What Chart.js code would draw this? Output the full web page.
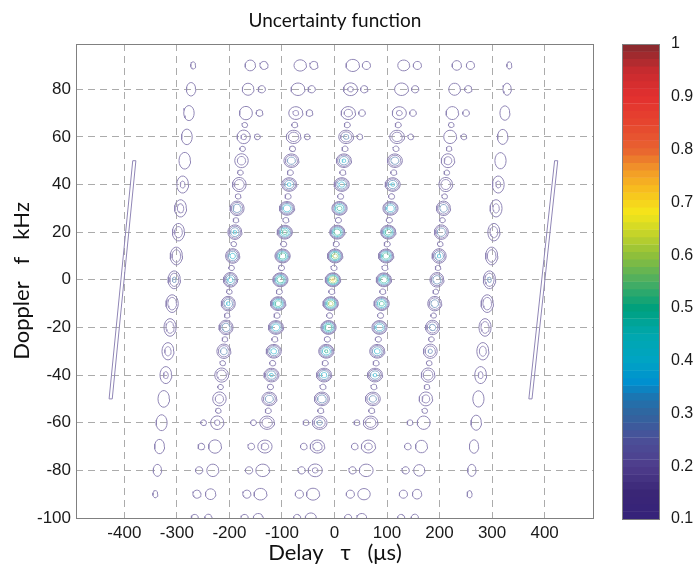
<!DOCTYPE html>
<html>
<head>
<meta charset="utf-8">
<script src="https://cdn.jsdelivr.net/npm/chart.js@4.4.1/dist/chart.umd.min.js"></script>
<style>
html,body{margin:0;padding:0;background:#fff;}
#wrap{position:relative;width:698px;height:568px;overflow:hidden;}
#main{position:absolute;left:0;top:0;}
#cbar{position:absolute;left:600px;top:0;}
</style>
</head>
<body>
<div id="wrap">
<canvas id="main" width="698" height="568"></canvas>
<canvas id="cbar" width="98" height="568"></canvas>
</div>
<script>
// ---------------- data ----------------
const xRange = [-492, 494];                 // delay axis limits (µs)
const yRange = [-100, 99];                  // doppler axis limits (kHz)
const xTickValues = [-400, -300, -200, -100, 0, 100, 200, 300, 400];
const yTickValues = [-100, -80, -60, -40, -20, 0, 20, 40, 60, 80];
const colorbarTicks = [0.1, 0.2, 0.3, 0.4, 0.5, 0.6, 0.7, 0.8, 0.9, 1];
const contourLevels = [0.1, 0.2, 0.3, 0.4, 0.5, 0.6, 0.7, 0.8, 0.9];

// doppler rows of the lobes (kHz)
const dopplerRows = [90, 80, 70, 60, 50, 40, 30, 20, 10, 0, -10, -20, -30, -40, -50, -60, -70, -80, -90, -100];

// lobe columns: delay at f = 0 (µs) and drift of the column (µs per kHz)
const columnTau0  = [-305, -198, -103, -3, 94, 195, 295];
const columnDrift = [0.40, 0.42, 0.42, 0.42, 0.42, 0.42, 0.42];
// size of the outer (0.1) contour of a strong lobe: half width (µs), half height (kHz)
const columnHalfWidth  = [12.5, 14, 15, 15, 15, 14, 12.5];
const columnHalfHeight = [4.0, 3.2, 3.0, 3.0, 3.0, 3.2, 4.0];

// peak level of every lobe, per column, rows as in dopplerRows
const peakColM3 = [0.105, 0.13, 0.15, 0.16, 0.20, 0.22, 0.24, 0.27, 0.30, 0.32, 0.30, 0.28, 0.24, 0.22, 0.20, 0.17, 0.14, 0.12, 0.105, 0];
const peakColM2 = [0.13, 0.15, 0.20, 0.22, 0.26, 0.30, 0.40, 0.42, 0.45, 0.45, 0.42, 0.40, 0.36, 0.30, 0.26, 0.22, 0.20, 0.16, 0.13, 0.11];
const peakColM1 = [0.15, 0.20, 0.22, 0.30, 0.38, 0.42, 0.50, 0.55, 0.60, 0.60, 0.58, 0.50, 0.45, 0.42, 0.38, 0.30, 0.24, 0.20, 0.16, 0.12];
const peakCol0  = [0.18, 0.22, 0.25, 0.33, 0.42, 0.45, 0.55, 0.60, 0.65, 0.72, 0.65, 0.60, 0.52, 0.45, 0.40, 0.33, 0.27, 0.22, 0.17, 0.13];
const peakColP1 = [0.14, 0.20, 0.22, 0.30, 0.38, 0.42, 0.50, 0.58, 0.60, 0.60, 0.55, 0.50, 0.45, 0.42, 0.36, 0.30, 0.24, 0.20, 0.15, 0.12];
const peakColP2 = [0.12, 0.15, 0.18, 0.20, 0.25, 0.30, 0.38, 0.40, 0.42, 0.40, 0.38, 0.35, 0.32, 0.30, 0.25, 0.20, 0.16, 0.14, 0.12, 0.11];
const peakColP3 = [0.105, 0.12, 0.14, 0.15, 0.18, 0.22, 0.24, 0.27, 0.30, 0.32, 0.30, 0.28, 0.25, 0.22, 0.18, 0.15, 0.13, 0.12, 0.105, 0];

// small satellite lobes beside the main lobes in the outer rows (offset µs, peak)
const satelliteOffset = [26, 26, 26, 26, 0, 0, 0, 0, 0, 0, 0, 0, 0, 0, 0, -26, -26, -26, -26, -26];
const satellitePeak   = [0.13, 0.12, 0.115, 0.11, 0, 0, 0, 0, 0, 0, 0, 0, 0, 0, 0, 0.11, 0.115, 0.12, 0.13, 0.12];
// tiny lobes between rows along the columns
const betweenRowPeak = [0, 0.112, 0.115, 0.115, 0.115, 0.112, 0];

// the two long slanted ridges near ±400 µs: [tau, f] of their ends
const ridgeLeft  = [[-381, 50], [-426, -50]];
const ridgeRight = [[422, 50], [373, -50]];
const ridgeHalfWidth = 3;

// colormap of the colour bar
const colormapStops = [
  [0.10, '#35237a'], [0.15, '#3a2676'], [0.20, '#4e3d8c'], [0.25, '#4b4f98'], [0.30, '#30659f'],
  [0.33, '#1d74b0'], [0.36, '#0090cf'], [0.40, '#00a4c4'], [0.45, '#00a7ad'], [0.50, '#00a07c'],
  [0.55, '#4aae62'], [0.60, '#8fbf3a'], [0.65, '#d0d826'], [0.68, '#f5e61a'], [0.72, '#f8c21e'],
  [0.76, '#f29a28'], [0.80, '#e86330'], [0.85, '#e6452f'], [0.90, '#e3302f'], [0.95, '#c62b2f'],
  [1.00, '#842a2e']
];

// ---------------- helpers ----------------
function hexRgb(h){ return [parseInt(h.slice(1,3),16), parseInt(h.slice(3,5),16), parseInt(h.slice(5,7),16)]; }
function cmapRgb(v){
  if (v <= colormapStops[0][0]) return hexRgb(colormapStops[0][1]);
  for (let i = 1; i < colormapStops.length; i++){
    if (v <= colormapStops[i][0]){
      const a = colormapStops[i-1], b = colormapStops[i];
      const t = (v - a[0]) / (b[0] - a[0]);
      const ca = hexRgb(a[1]), cb = hexRgb(b[1]);
      return ca.map((c, k) => Math.round(c + (cb[k] - c) * t));
    }
  }
  return hexRgb(colormapStops[colormapStops.length-1][1]);
}
function rgbStr(c){ return 'rgb(' + c[0] + ',' + c[1] + ',' + c[2] + ')'; }
function lineColor(v){
  const c = cmapRgb(v), w = 0.45;
  return rgbStr(c.map(x => Math.round(x * (1 - w) + 255 * w)));
}

// build contour rings (one dataset per level)
const ringData = contourLevels.map(() => []);
const SEG = 18;
function addBlob(tau, f, A, rx, ry){
  contourLevels.forEach((L, li) => {
    if (A <= L) return;
    const s = Math.sqrt((A - L) / (A - 0.07));
    const arr = ringData[li];
    for (let k = 0; k <= SEG; k++){
      const t = 2 * Math.PI * k / SEG;
      arr.push({x: tau + rx * s * Math.cos(t), y: f + ry * s * Math.sin(t)});
    }
    arr.push({x: tau, y: null});
  });
}

const peakColumns = [peakColM3, peakColM2, peakColM1, peakCol0, peakColP1, peakColP2, peakColP3];
peakColumns.forEach((col, c) => {
  dopplerRows.forEach((f, r) => {
    const tau = columnTau0[c] + columnDrift[c] * f;
    const A = col[r];
    if (A > contourLevels[0]) addBlob(tau, f, A, columnHalfWidth[c], columnHalfHeight[c]);
    if (c >= 1 && c <= 5 && satellitePeak[r] > contourLevels[0]) {
      addBlob(tau + satelliteOffset[r], f, satellitePeak[r], 11, 2.4);
    }
    if (betweenRowPeak[c] > contourLevels[0] && Math.abs(f) <= 60) {
      const fm = f + 5;
      addBlob(columnTau0[c] + columnDrift[c] * fm, fm, betweenRowPeak[c], 10, 2.0);
    }
  });
});

// ridges as closed thin outlines at the lowest level
const ridgeData = [];
[ridgeLeft, ridgeRight].forEach(rg => {
  const [p, q] = rg;
  ridgeData.push({x: p[0] - ridgeHalfWidth, y: p[1]});
  ridgeData.push({x: p[0] + ridgeHalfWidth, y: p[1]});
  ridgeData.push({x: q[0] + ridgeHalfWidth, y: q[1]});
  ridgeData.push({x: q[0] - ridgeHalfWidth, y: q[1]});
  ridgeData.push({x: p[0] - ridgeHalfWidth, y: p[1]});
  ridgeData.push({x: p[0], y: null});
});

const datasets = [{
  data: ridgeData, showLine: true, pointRadius: 0, borderWidth: 1,
  borderColor: lineColor(contourLevels[0]), fill: false, spanGaps: false
}].concat(contourLevels.map((L, li) => ({
  data: ringData[li], showLine: true, pointRadius: 0, borderWidth: 1,
  borderColor: lineColor(L), fill: false, spanGaps: false
})));

const framePlugin = {
  id: 'frame',
  afterDraw(chart){
    const {ctx, chartArea: a} = chart;
    ctx.save();
    ctx.strokeStyle = '#808080';
    ctx.lineWidth = 1;
    ctx.strokeRect(Math.round(a.left) + 0.5, Math.round(a.top) + 0.5, Math.round(a.right - a.left) - 1, Math.round(a.bottom - a.top));
    ctx.restore();
  }
};

const tickFont = {family: "'Liberation Sans', Arial, sans-serif", size: 17};
const cbarFont = {family: "'Liberation Sans', Arial, sans-serif", size: 16};
const titleFont = {family: "Lato, 'Open Sans', sans-serif", size: 22};

new Chart(document.getElementById('main'), {
  type: 'scatter',
  data: {datasets},
  options: {
    responsive: false, animation: false, events: [],
    layout: {padding: {left: 0, right: 104, top: 0, bottom: 0}},
    plugins: {
      legend: {display: false}, tooltip: {enabled: false},
      title: {display: true, text: 'Uncertainty function', fullSize: false,
              font: {family: "Lato, 'Open Sans', sans-serif", size: 19, weight: 'normal'},
              color: '#111', padding: {top: 9, bottom: 12.2}}
    },
    scales: {
      x: {
        type: 'linear', min: xRange[0], max: xRange[1],
        afterBuildTicks: s => { s.ticks = xTickValues.map(v => ({value: v})); },
        afterFit: s => { s.height = 50; },
        ticks: {font: tickFont, color: '#1a1a1a', padding: 5, maxRotation: 0, autoSkip: false},
        grid: {color: '#ababab', lineWidth: 1, drawTicks: false},
        border: {display: false, dash: [7, 5]},
        title: {display: true, text: 'Delay   τ   (μs)', font: titleFont, color: '#111', padding: {top: 0, bottom: 2}}
      },
      y: {
        type: 'linear', min: yRange[0], max: yRange[1],
        afterBuildTicks: s => { s.ticks = yTickValues.map(v => ({value: v})); },
        afterFit: s => { s.width = 76; },
        ticks: {font: tickFont, color: '#1a1a1a', padding: 5, autoSkip: false},
        grid: {color: '#ababab', lineWidth: 1, drawTicks: false},
        border: {display: false, dash: [7, 5]},
        title: {display: true, text: 'Doppler   f   kHz', font: titleFont, color: '#111', padding: {top: 9, bottom: 0}}
      }
    }
  },
  plugins: [framePlugin]
});

// colour bar
const NB = 64;
const bandMid = [], bandColor = [];
for (let i = 0; i < NB; i++){
  const v = 0.1 + (i + 0.5) * 0.9 / NB;
  bandMid.push(v);
  bandColor.push(rgbStr(cmapRgb(v)));
}
new Chart(document.getElementById('cbar'), {
  type: 'bar',
  data: {datasets: [{
    data: bandMid.map(v => ({x: 1, y: v})),
    backgroundColor: bandColor, borderWidth: 0, barPercentage: 1.06, categoryPercentage: 1
  }]},
  options: {
    indexAxis: 'y', responsive: false, animation: false, events: [],
    layout: {padding: {left: 22, top: 44, bottom: 49, right: 0}},
    plugins: {legend: {display: false}, tooltip: {enabled: false}},
    scales: {
      x: {display: false, min: 0, max: 1},
      y: {
        type: 'linear', position: 'right', min: 0.1, max: 1, offset: false,
        afterBuildTicks: s => { s.ticks = colorbarTicks.map(v => ({value: v})); },
        afterFit: s => { s.width = 38; },
        ticks: {font: cbarFont, color: '#1a1a1a', padding: 3, callback: v => (v === 1 ? '1' : v.toFixed(1))},
        grid: {display: false}, border: {display: false}
      }
    }
  },
  plugins: [framePlugin]
});
</script>
</body>
</html>
